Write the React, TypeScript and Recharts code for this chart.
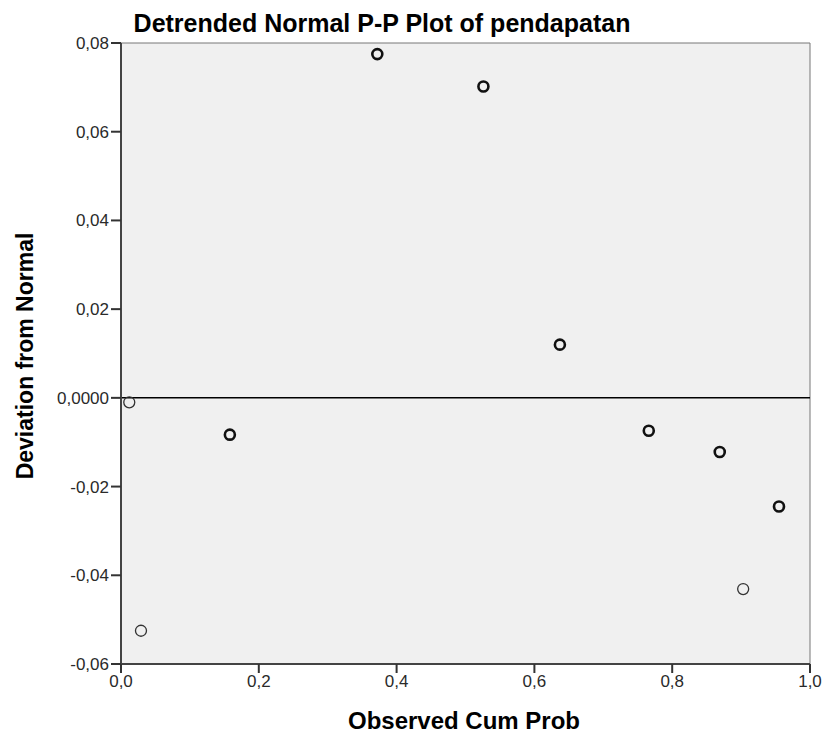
import React from "react";
import {
  ScatterChart,
  Scatter,
  XAxis,
  YAxis,
  ReferenceArea,
  ReferenceLine,
} from "recharts";

// points drawn with a heavy outline
const boldX = [0.158, 0.372, 0.526, 0.637, 0.766, 0.869, 0.955];
const boldY = [-0.0083, 0.0775, 0.0702, 0.012, -0.0074, -0.0122, -0.0245];
// points drawn with a thin outline
const thinX = [0.012, 0.029, 0.903];
const thinY = [-0.001, -0.0525, -0.0431];

const xTicks = [0, 0.2, 0.4, 0.6, 0.8, 1.0];
const yTicks = [-0.06, -0.04, -0.02, 0, 0.02, 0.04, 0.06, 0.08];

const boldData = boldX.map((x, i) => ({ x, y: boldY[i] }));
const thinData = thinX.map((x, i) => ({ x, y: thinY[i] }));

const FONT = "'Liberation Sans', Arial, sans-serif";

const fmtX = (v: number) => v.toFixed(1).replace(".", ",");
const fmtY = (v: number) =>
  Math.abs(v) < 1e-9 ? "0,0000" : v.toFixed(2).replace(".", ",");

const BoldDot = (props: any) => (
  <circle cx={props.cx} cy={props.cy} r={5} fill="none" stroke="#111" strokeWidth={2.6} />
);
const ThinDot = (props: any) => (
  <circle cx={props.cx} cy={props.cy} r={5.5} fill="none" stroke="#333" strokeWidth={1.3} />
);

export default function App() {
  const tick = { fontSize: 17, fill: "#2a2a2a", fontFamily: FONT };
  return (
    <div style={{ position: "absolute", left: 0, top: 0, width: 827, height: 737, background: "#fff" }}>
      <ScatterChart
        width={827}
        height={737}
        margin={{ top: 43, right: 17, left: 0, bottom: 0 }}
      >
        <XAxis
          type="number"
          dataKey="x"
          domain={[0, 1]}
          ticks={xTicks}
          tickFormatter={fmtX}
          tick={tick}
          tickSize={9}
          tickLine={{ stroke: "#333", strokeWidth: 2 }}
          height={73}
          stroke="#444"
          strokeWidth={2}
          allowDataOverflow
        />
        <YAxis
          type="number"
          dataKey="y"
          domain={[-0.06, 0.08]}
          ticks={yTicks}
          tickFormatter={fmtY}
          tick={tick}
          tickSize={10}
          tickLine={{ stroke: "#333", strokeWidth: 2 }}
          width={121}
          stroke="#444"
          strokeWidth={2}
          allowDataOverflow
        />
        <ReferenceArea
          x1={0}
          x2={1}
          y1={-0.06}
          y2={0.08}
          fill="#f0f0f0"
          fillOpacity={1}
          stroke="#777"
          strokeWidth={1}
        />
        <ReferenceLine y={0} stroke="#000" strokeWidth={1.5} />
        <Scatter data={thinData} shape={ThinDot} isAnimationActive={false} />
        <Scatter data={boldData} shape={BoldDot} isAnimationActive={false} />
      </ScatterChart>
      <svg
        width={827}
        height={737}
        style={{ position: "absolute", left: 0, top: 0, pointerEvents: "none" }}
      >
        <text x={382} y={32} textAnchor="middle" fontFamily={FONT} fontWeight="bold" fontSize={25} fill="#000">
          Detrended Normal P-P Plot of pendapatan
        </text>
        <text
          x={33}
          y={356}
          textAnchor="middle"
          fontFamily={FONT}
          fontWeight="bold"
          fontSize={23}
          fill="#000"
          transform="rotate(-90 33 356)"
        >
          Deviation from Normal
        </text>
        <text x={464} y={729} textAnchor="middle" fontFamily={FONT} fontWeight="bold" fontSize={24} fill="#000">
          Observed Cum Prob
        </text>
      </svg>
    </div>
  );
}
